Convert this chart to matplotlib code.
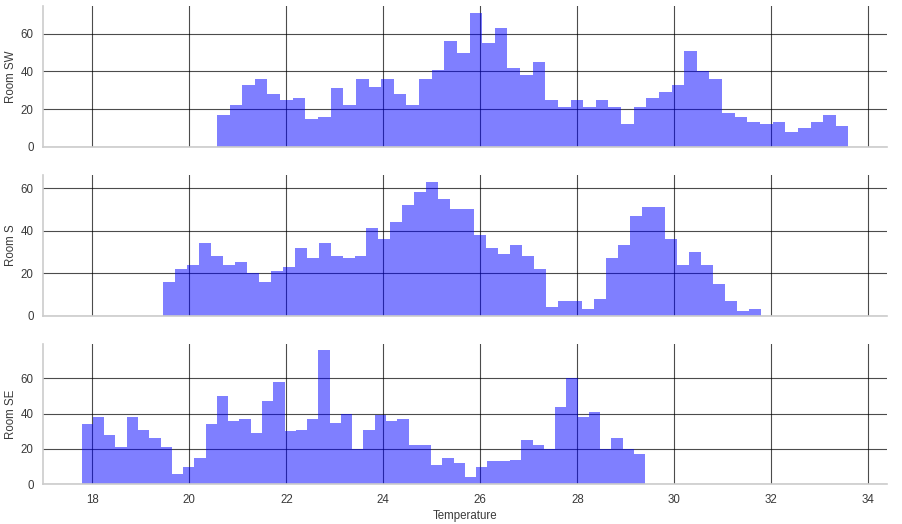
import numpy as np
import matplotlib
matplotlib.use('Agg')
import matplotlib.pyplot as plt

rooms = ['Room SW', 'Room S', 'Room SE']

# bin range (first / last edge) of each histogram, 50 bins each
range_sw = (20.57, 33.59)
range_s = (19.46, 31.79)
range_se = (17.78, 29.40)

counts_sw = [17, 22, 33, 36, 28, 25, 26, 15, 16, 31,
             22, 36, 32, 36, 28, 22, 36, 41, 56, 50,
             71, 55, 63, 42, 38, 45, 25, 21, 25, 21,
             25, 21, 12, 21, 26, 29, 33, 51, 40, 36,
             18, 16, 13, 12, 13, 8, 10, 13, 17, 11]
counts_s = [16, 22, 24, 34, 28, 24, 25, 20, 16, 21,
            23, 32, 27, 34, 28, 27, 28, 41, 36, 44,
            52, 58, 63, 55, 50, 50, 38, 32, 29, 33,
            28, 22, 4, 7, 7, 3, 8, 27, 33, 47,
            51, 51, 36, 24, 30, 24, 15, 7, 2, 3]
counts_se = [34, 38, 28, 21, 38, 31, 26, 21, 6, 10,
             15, 34, 50, 36, 37, 29, 47, 58, 30, 31,
             37, 76, 35, 40, 20, 31, 39, 36, 37, 22,
             22, 11, 15, 12, 4, 10, 13, 13, 14, 25,
             22, 20, 44, 60, 38, 41, 20, 26, 20, 17]

plt.rcParams['font.family'] = ['Liberation Sans', 'DejaVu Sans']
plt.rcParams['font.size'] = 8.3
plt.rcParams['text.color'] = '#3a3a3a'
plt.rcParams['axes.labelcolor'] = '#3a3a3a'
plt.rcParams['xtick.color'] = '#3a3a3a'
plt.rcParams['ytick.color'] = '#3a3a3a'

fig, axes = plt.subplots(3, 1, figsize=(9.03, 5.24), dpi=100, sharex=True)
fig.subplots_adjust(left=0.048, right=0.982, top=0.988, bottom=0.076, hspace=0.2)

data = [(range_sw, counts_sw), (range_s, counts_s), (range_se, counts_se)]
for ax, name, (rng, cnt) in zip(axes, rooms, data):
    edges = np.linspace(rng[0], rng[1], len(cnt) + 1)
    centers = (edges[:-1] + edges[1:]) / 2
    ax.hist(centers, bins=edges, weights=cnt, histtype='stepfilled',
            color='blue', alpha=0.5, linewidth=0)
    ax.set_ylabel(name)
    ax.yaxis.set_label_coords(-0.031, 0.5)
    ax.set_yticks([0, 20, 40, 60])
    ax.set_axisbelow(True)
    ax.grid(True, color='black', linewidth=0.8, alpha=0.7)
    for s in ['top', 'right']:
        ax.spines[s].set_visible(False)
    for s in ['left', 'bottom']:
        ax.spines[s].set_color('#cccccc')
        ax.spines[s].set_linewidth(1.2)
    ax.tick_params(length=0, pad=7)

axes[-1].set_xticks(range(18, 35, 2))
axes[-1].set_xlabel('Temperature', labelpad=3)

fig.savefig('out.png')
